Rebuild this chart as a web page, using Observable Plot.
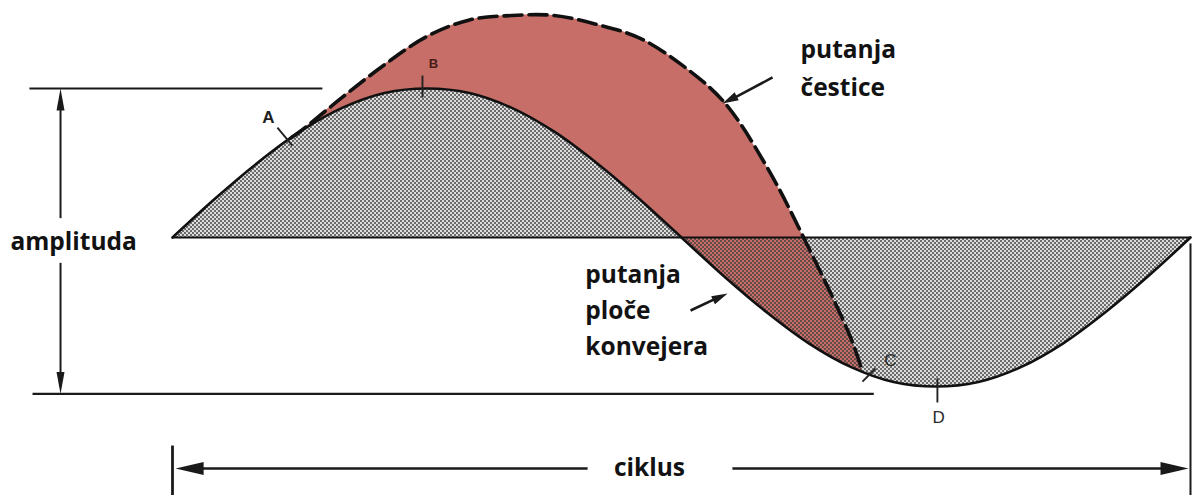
<!DOCTYPE html>
<html>
<head>
<meta charset="utf-8">
<script src="https://cdn.jsdelivr.net/npm/d3@7"></script>
<script src="https://cdn.jsdelivr.net/npm/@observablehq/plot@0.6"></script>
<style>
  html, body { margin: 0; padding: 0; background: #fff; }
  #chart { width: 1192px; height: 495px; overflow: hidden; }
</style>
</head>
<body>
<div id="chart"></div>
<script>
// ---- data (x in degrees of the cycle, y in amplitude units) ----
const cycleDeg   = [0,15,30,45,60,75,90,105,120,135,150,165,180,195,210,225,240,255,270,285,300,315,330,345,360];
const platePath  = [0,0.26,0.5,0.71,0.87,0.97,1,0.97,0.87,0.71,0.5,0.26,0,-0.26,-0.5,-0.71,-0.87,-0.97,-1,-0.97,-0.87,-0.71,-0.5,-0.26,0];

const particleDeg   = [42,45,60,75,90,105,120,135,150,165,180,195,210,225,240,244];
const particlePath  = [0.67,0.71,0.94,1.16,1.35,1.46,1.49,1.49,1.43,1.34,1.16,0.91,0.48,-0.07,-0.68,-0.9];
const plateAtParticle = [0.67,0.71,0.87,0.97,1,0.97,0.87,0.71,0.5,0.26,0,-0.26,-0.5,-0.71,-0.87,-0.9];

const mainLabels  = ["amplituda", "putanja", "čestice", "putanja", "ploče", "konvejera", "ciklus"];
const pointLabels = ["A", "B", "C", "D"];

// ---- tables built from the arrays ----
const plate = cycleDeg.map((d, i) => ({deg: d, y: platePath[i]}));
const particle = particleDeg.map((d, i) => ({deg: d, p: particlePath[i], s: plateAtParticle[i]}));

// annotation placement (data units: degrees, amplitude)
const labelPos = [
  {x: -57.3, y: -0.034, anchor: "start"},
  {x: 222.1, y: 1.255, anchor: "start"},
  {x: 222.1, y: 1.0, anchor: "start"},
  {x: 146.0, y: -0.255, anchor: "start"},
  {x: 146.0, y: -0.497, anchor: "start"},
  {x: 146.0, y: -0.738, anchor: "start"},
  {x: 168.7, y: -1.55, anchor: "middle"}
];
const mainText = mainLabels.map((t, i) => ({t, ...labelPos[i]}));
const pointPos = [
  {x: 33.9, y: 0.805, s: 17, c: "#1e1e1e", w: "bold"},
  {x: 92.3, y: 1.168, s: 13, c: "#4a1c18", w: "bold"},
  {x: 253.9, y: -0.826, s: 17, c: "#2a2a2a", w: "normal"},
  {x: 270.9, y: -1.208, s: 17, c: "#2a2a2a", w: "normal"}
];
const pointText = pointLabels.map((t, i) => ({t, ...pointPos[i]}));

const ticks = [
  {x1: 37.1, y1: 0.738, x2: 42.4, y2: 0.617},
  {x1: 88.4, y1: 1.087, x2: 88.4, y2: 0.94},
  {x1: 244.0, y1: -0.967, x2: 248.6, y2: -0.879},
  {x1: 270.5, y1: -0.946, x2: 270.5, y2: -1.107}
];

const guideLines = [
  {x1: -50.6, y1: 1, x2: 53, y2: 1, w: 2.2},          // amplitude top
  {x1: -49.5, y1: -1.05, x2: 248, y2: -1.05, w: 2.2},  // amplitude bottom
  {x1: -39.6, y1: 0.13, x2: -39.6, y2: 0.95, w: 2},    // up shaft
  {x1: -39.6, y1: -0.17, x2: -39.6, y2: -1.0, w: 2},   // down shaft
  {x1: 4, y1: -1.55, x2: 146.8, y2: -1.55, w: 2.6},    // ciklus left
  {x1: 198, y1: -1.55, x2: 356, y2: -1.55, w: 2.6},    // ciklus right
  {x1: 0, y1: -1.396, x2: 0, y2: -1.75, w: 2.8},       // left end tick
  {x1: 360, y1: -0.04, x2: 360, y2: -1.75, w: 2},      // right end tick
  {x1: 212.2, y1: 1.074, x2: 197, y2: 0.92, w: 2.6},   // particle label arrow
  {x1: 183.2, y1: -0.49, x2: 194, y2: -0.393, w: 2.6}  // plate label arrow
];

function head(L, w) {
  return {draw(ctx) { ctx.moveTo(0, 0); ctx.lineTo(w / 2, L); ctx.lineTo(-w / 2, L); ctx.closePath(); }};
}
const heads = [
  {x: -39.6, y: 1, rot: 0, sym: head(22, 8)},
  {x: -39.6, y: -1.05, rot: 180, sym: head(22, 8)},
  {x: 1.1, y: -1.55, rot: 270, sym: head(28, 13)},
  {x: 359.3, y: -1.55, rot: 90, sym: head(28, 13)},
  {x: 194.5, y: 0.899, rot: 242.5, sym: head(16, 9)},
  {x: 196.3, y: -0.376, rot: 65.3, sym: head(16, 9)}
];

const red = "#c76e68";
const font = "'Open Sans', 'Noto Sans', sans-serif";
const textStyle = {x: "x", y: "y", text: "t", lineAnchor: "middle", fontFamily: font, fontWeight: "bold", fontSize: 24.5, fill: "#121212"};

const svg = Plot.plot({
  width: 1192,
  height: 495,
  margin: 0,
  x: {domain: [-60.825, 360.71], axis: null},
  y: {domain: [-1.7315, 1.5906], axis: null},
  style: {background: "#fff"},
  marks: [
    // grey region between plate path and the rest line
    Plot.areaY(plate, {x: "deg", y1: 0, y2: "y", fill: "#dcdcdc", curve: "catmull-rom"}),
    // red region between plate path and particle path
    Plot.areaY(particle, {x: "deg", y1: "s", y2: "p", fill: red, curve: "catmull-rom"}),
    // halftone dots over the plate region
    Plot.areaY(plate, {x: "deg", y1: 0, y2: "y", fill: "url(#dots)", curve: "catmull-rom"}),
    Plot.ruleY([0], {x1: 0, x2: 360, stroke: "#111", strokeWidth: 2}),
    Plot.line(plate, {x: "deg", y: "y", stroke: "#111", strokeWidth: 2.6, curve: "catmull-rom"}),
    Plot.line(particle, {x: "deg", y: "p", stroke: "#111", strokeWidth: 3.6, strokeDasharray: "18,7", curve: "catmull-rom"}),
    Plot.link(ticks, {x1: "x1", y1: "y1", x2: "x2", y2: "y2", stroke: "#222", strokeWidth: 1.9}),
    ...guideLines.map(g => Plot.link([g], {x1: "x1", y1: "y1", x2: "x2", y2: "y2", stroke: "#1a1a1a", strokeWidth: g.w})),
    ...heads.map(h => Plot.dot([h], {x: "x", y: "y", symbol: h.sym, rotate: h.rot, fill: "#1a1a1a", stroke: "none"})),
    Plot.text(mainText.filter(d => d.anchor === "start"), {...textStyle, textAnchor: "start"}),
    Plot.text(mainText.filter(d => d.anchor === "middle"), {...textStyle, textAnchor: "middle"}),
    ...pointText.map(p => Plot.text([p], {x: "x", y: "y", text: "t", lineAnchor: "middle",
      fontFamily: "'Liberation Sans', Arial, sans-serif", fontSize: p.s, fontWeight: p.w, fill: p.c}))
  ]
});

d3.select(svg).insert("defs", ":first-child").html(
  '<pattern id="dots" width="4" height="4" patternUnits="userSpaceOnUse">' +
  '<circle cx="1" cy="1" r="0.95" fill="#3a3a3a"/><circle cx="3" cy="3" r="0.95" fill="#3a3a3a"/>' +
  '</pattern>'
);

document.getElementById("chart").appendChild(svg);
</script>
</body>
</html>
